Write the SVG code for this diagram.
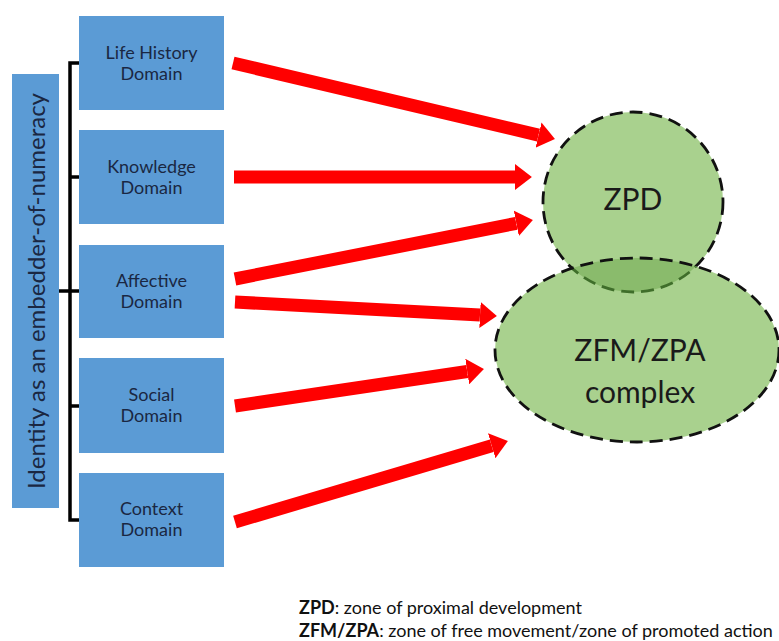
<svg xmlns="http://www.w3.org/2000/svg" width="779" height="641" viewBox="0 0 779 641">
<style>
.box{fill:#5b9bd5;}
.bt{font-family:Lato,"Open Sans",sans-serif;font-size:18px;fill:#1a2742;text-anchor:middle;}
.arr{stroke:#ff0000;stroke-width:13;fill:none;marker-end:url(#ah);}
.br{stroke:#000;stroke-width:3.5;fill:none;}
.zt{font-family:Lato,"Open Sans",sans-serif;font-size:30px;fill:#1a1a1a;text-anchor:middle;}
.dash{fill:none;stroke:#111;stroke-width:2.8;stroke-dasharray:13 7;}
.leg{font-family:Lato,"Open Sans",sans-serif;font-size:18px;fill:#111;}
</style>
<defs>
<marker id="ah" viewBox="0 0 13 20" refX="0" refY="10" markerWidth="1.3" markerHeight="2" markerUnits="strokeWidth" orient="auto">
<path d="M0,0 L13,10 L0,20 z" fill="#ff0000"/>
</marker>
<clipPath id="zpdclip"><circle cx="633" cy="202" r="90"/></clipPath>
<clipPath id="zfmclip"><ellipse cx="637" cy="350" rx="142" ry="92"/></clipPath>
</defs>
<rect width="779" height="641" fill="#ffffff"/>

<g id="identity">
<rect class="box" x="12" y="74" width="47" height="434"/>
<text transform="translate(45,291) rotate(-90)" font-family="Lato,'Open Sans',sans-serif" font-size="24" fill="#1a2742" text-anchor="middle">Identity as an embedder-of-numeracy</text>
</g>

<g id="bracket">
<path class="br" d="M79,63 H70 V520 H79 M70,177 H79 M59,291 H79 M70,406 H79"/>
</g>

<g id="life-history">
<rect class="box" x="79" y="16" width="145" height="94"/>
<text class="bt" x="151.5" y="59">Life History</text>
<text class="bt" x="151.5" y="80">Domain</text>
</g>
<g id="knowledge">
<rect class="box" x="79" y="130" width="145" height="94"/>
<text class="bt" x="151.5" y="173">Knowledge</text>
<text class="bt" x="151.5" y="194">Domain</text>
</g>
<g id="affective">
<rect class="box" x="79" y="245" width="145" height="93"/>
<text class="bt" x="151.5" y="287">Affective</text>
<text class="bt" x="151.5" y="308">Domain</text>
</g>
<g id="social">
<rect class="box" x="79" y="358" width="145" height="95"/>
<text class="bt" x="151.5" y="401">Social</text>
<text class="bt" x="151.5" y="422">Domain</text>
</g>
<g id="context">
<rect class="box" x="79" y="473" width="145" height="94"/>
<text class="bt" x="151.5" y="515">Context</text>
<text class="bt" x="151.5" y="536">Domain</text>
</g>

<g id="zpd">
<circle cx="633" cy="202" r="90" fill="#a9d18e"/>
<circle class="dash" cx="633" cy="202" r="90"/>
</g>
<g id="zfm">
<ellipse cx="637" cy="350" rx="142" ry="92" fill="#a9d18e"/>
<ellipse cx="637" cy="350" rx="142" ry="92" fill="#8abb6c" clip-path="url(#zpdclip)"/>
<circle cx="633" cy="202" r="90" fill="none" stroke="#3f6e2a" stroke-width="2.8" stroke-dasharray="13 7" clip-path="url(#zfmclip)"/>
<ellipse class="dash" cx="637" cy="350" rx="142" ry="92"/>
</g>
<g id="labels">
<text class="zt" x="633" y="210">ZPD</text>
<text class="zt" x="640" y="361">ZFM/ZPA</text>
<text class="zt" x="640" y="403">complex</text>
</g>

<g id="connectors">
<line class="arr" x1="233" y1="63" x2="538.5" y2="135.1"/>
<line class="arr" x1="234" y1="177" x2="515" y2="177"/>
<line class="arr" x1="235" y1="279" x2="516.3" y2="223.3"/>
<line class="arr" x1="235" y1="302" x2="480" y2="315.1"/>
<line class="arr" x1="235" y1="406" x2="467.2" y2="371.5"/>
<line class="arr" x1="235" y1="522" x2="491.7" y2="445.8"/>
</g>

<g id="legend">
<text class="leg" x="299" y="614"><tspan font-weight="bold">ZPD</tspan>: zone of proximal development</text>
<text class="leg" x="299" y="637"><tspan font-weight="bold">ZFM/ZPA</tspan>: zone of free movement/zone of promoted action</text>
</g>
</svg>
